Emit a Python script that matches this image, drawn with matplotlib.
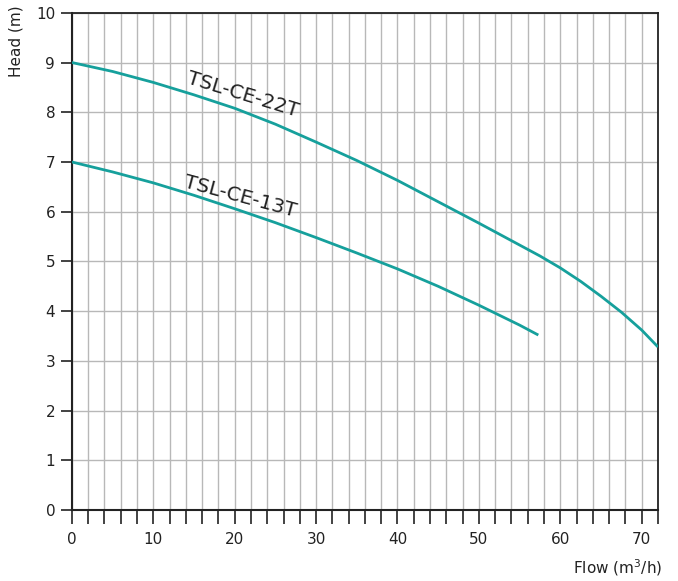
import matplotlib
matplotlib.use("Agg")
import matplotlib.pyplot as plt
from matplotlib.ticker import MultipleLocator, FuncFormatter

# pump curves
flow_22 = [0, 5, 10, 15, 20, 25, 30, 35, 40, 45, 50, 55, 57.5, 60, 62.5, 65, 67.5, 70, 72]
head_22 = [9.0, 8.82, 8.6, 8.35, 8.08, 7.76, 7.4, 7.03, 6.63, 6.2, 5.77, 5.33, 5.11, 4.87, 4.6, 4.3, 3.98, 3.62, 3.28]

flow_13 = [0, 5, 10, 15, 20, 25, 30, 35, 40, 45, 50, 55, 57.3]
head_13 = [7.0, 6.8, 6.58, 6.33, 6.06, 5.78, 5.48, 5.17, 4.85, 4.5, 4.12, 3.72, 3.52]

teal = "#16a09c"
txt = "#222222"

plt.rcParams['font.family'] = ['DejaVu Sans']

fig = plt.figure(figsize=(6.78, 5.81), dpi=100)
ax = fig.add_axes([0.106, 0.122, 0.8645, 0.856])

ax.plot(flow_22, head_22, color=teal, lw=2.0, solid_capstyle='butt', zorder=3)
ax.plot(flow_13, head_13, color=teal, lw=2.0, solid_capstyle='butt', zorder=3)

ax.set_xlim(0, 72)
ax.set_ylim(0, 10)

ax.xaxis.set_major_locator(MultipleLocator(2))
ax.xaxis.set_major_formatter(FuncFormatter(lambda v, p: "%d" % v if round(v) % 10 == 0 else ""))
ax.yaxis.set_major_locator(MultipleLocator(1))

ax.grid(True, color="#b8b8b8", lw=1.0, zorder=0)
ax.tick_params(axis='x', direction='out', length=10, width=1.2, color=txt, labelsize=11, labelcolor=txt, pad=6)
ax.tick_params(axis='y', direction='out', length=8, width=1.2, color=txt, labelsize=11, labelcolor=txt, pad=4)
for s in ax.spines.values():
    s.set_color(txt)
    s.set_linewidth(1.3)
ax.spines['left'].set_linewidth(1.5)
ax.spines['bottom'].set_linewidth(1.5)

ax.text(21.0, 8.35, "TSL-CE-22T", rotation=-17, ha='center', va='center', fontsize=14.5, color=txt, rotation_mode='anchor')
ax.text(20.7, 6.3, "TSL-CE-13T", rotation=-15, ha='center', va='center', fontsize=14.5, color=txt, rotation_mode='anchor')

fig.text(0.977, 0.005, "Flow (m$^3$/h)", ha='right', va='bottom', fontsize=11, color=txt)
fig.text(0.012, 0.99, "Head (m)", rotation=90, ha='left', va='top', fontsize=11, color=txt)

fig.savefig("out.png", dpi=100)
